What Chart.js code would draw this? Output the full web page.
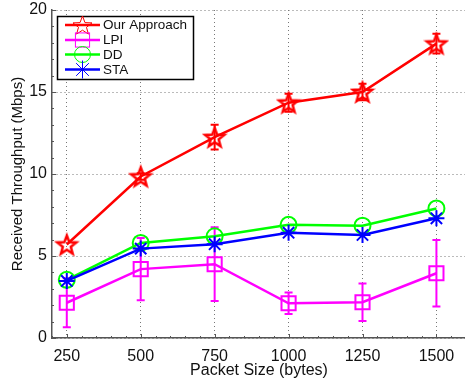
<!DOCTYPE html>
<html>
<head>
<meta charset="utf-8">
<script src="https://cdn.jsdelivr.net/npm/chart.js@4"></script>
<style>
  html, body { margin: 0; padding: 0; background: #fff; overflow: hidden; }
  #wrap { width: 467px; height: 387px; }
  canvas { display: block; }
</style>
</head>
<body>
<div id="wrap"><canvas id="throughputChart" width="467" height="387"></canvas></div>
<script>
// packet sizes (bytes) and received throughput (Mbps)
const packetSizes = [250, 500, 750, 1000, 1250, 1500];
const ourApproach = [5.7, 9.85, 12.25, 14.35, 15.0, 17.95];
const ourApproachErr = [0.0, 0.2, 0.75, 0.55, 0.5, 0.6];
const lpi = [2.15, 4.2, 4.5, 2.12, 2.18, 3.95];
const lpiErr = [1.5, 1.9, 2.25, 0.65, 1.14, 2.03];
const dd = [3.55, 5.8, 6.2, 6.9, 6.85, 7.9];
const sta = [3.48, 5.45, 5.72, 6.42, 6.28, 7.3];
const yTicks = [0, 5, 10, 15, 20];

const FONT = '"Liberation Sans", Arial, Helvetica, sans-serif';
Chart.defaults.font.family = FONT;
Chart.defaults.font.size = 16;
Chart.defaults.color = '#111';

function toPoints(values) {
    return packetSizes.map(function(x, i) { return { x: x, y: values[i] }; });
}

// five pointed star outline (pentagram marker)
function starPath(ctx, cx, cy, r) {
    const inner = r * 0.42;
    ctx.beginPath();
    for (let k = 0; k < 10; k++) {
        const rad = k % 2 === 0 ? r : inner;
        const a = -Math.PI / 2 + k * Math.PI / 5;
        const px = cx + rad * Math.cos(a), py = cy + rad * Math.sin(a);
        if (k === 0) ctx.moveTo(px, py); else ctx.lineTo(px, py);
    }
    ctx.closePath();
}

function makeStar(r, color, lw) {
    const c = document.createElement('canvas');
    const s = Math.ceil(2 * r + 6);
    c.width = s; c.height = s;
    const g = c.getContext('2d');
    g.strokeStyle = color;
    g.lineWidth = lw;
    g.lineJoin = 'miter';
    starPath(g, s / 2, s / 2 + 1, r);
    g.stroke();
    return c;
}

const starMarker = makeStar(10, '#ff0000', 2.5);

function drawMarker(ctx, style, x, y, r, color, lw) {
    ctx.save();
    ctx.strokeStyle = color;
    ctx.lineWidth = lw;
    if (style === 'pentagram') {
        starPath(ctx, x, y + 1, r);
        ctx.stroke();
    } else if (style === 'rect') {
        const h = r * Math.SQRT1_2;
        ctx.strokeRect(x - h, y - h, 2 * h, 2 * h);
    } else if (style === 'circle') {
        ctx.beginPath();
        ctx.arc(x, y, r, 0, Math.PI * 2);
        ctx.stroke();
    } else if (style === 'star') {
        ctx.beginPath();
        for (let k = 0; k < 4; k++) {
            const a = k * Math.PI / 4;
            ctx.moveTo(x - r * Math.cos(a), y - r * Math.sin(a));
            ctx.lineTo(x + r * Math.cos(a), y + r * Math.sin(a));
        }
        ctx.stroke();
    }
    ctx.restore();
}

// vertical error bars with caps, drawn right after each dataset
const errorBars = {
    id: 'errorBars',
    afterDatasetDraw(chart, args) {
        const ds = chart.data.datasets[args.index];
        if (!ds.errors) return;
        const ctx = chart.ctx;
        const xs = chart.scales.x, ys = chart.scales.y;
        ctx.save();
        ctx.strokeStyle = ds.borderColor;
        ctx.lineWidth = 2;
        ds.data.forEach(function(p, i) {
            const e = ds.errors[i];
            if (!e) return;
            const px = xs.getPixelForValue(p.x);
            const top = ys.getPixelForValue(p.y + e);
            const bot = ys.getPixelForValue(p.y - e);
            ctx.beginPath();
            ctx.moveTo(px, top); ctx.lineTo(px, bot);
            ctx.moveTo(px - 4, top); ctx.lineTo(px + 4, top);
            ctx.moveTo(px - 4, bot); ctx.lineTo(px + 4, bot);
            ctx.stroke();
        });
        ctx.restore();
    }
};

// small inward tick marks on both axes
const axisTicks = {
    id: 'axisTicks',
    afterDraw(chart) {
        const ctx = chart.ctx, a = chart.chartArea;
        const xs = chart.scales.x, ys = chart.scales.y;
        ctx.save();
        ctx.strokeStyle = '#555';
        ctx.lineWidth = 1;
        ctx.beginPath();
        for (let v = 200; v <= 1600; v += 50) {
            const px = Math.round(xs.getPixelForValue(v)) + 0.5;
            const len = packetSizes.indexOf(v) >= 0 ? 4 : 2;
            ctx.moveTo(px, a.bottom); ctx.lineTo(px, a.bottom - len);
        }
        for (let v = 0; v <= 20; v += 1) {
            const py = Math.round(ys.getPixelForValue(v)) + 0.5;
            const len = v % 5 === 0 ? 4 : 2;
            ctx.moveTo(a.left, py); ctx.lineTo(a.left + len, py);
        }
        ctx.stroke();
        ctx.restore();
    }
};

// boxed legend with line + marker samples
const boxLegend = {
    id: 'boxLegend',
    afterDraw(chart) {
        const ctx = chart.ctx;
        const bx = 57.5, by = 16.5, bw = 136, bh = 63;
        ctx.save();
        ctx.fillStyle = '#fff';
        ctx.fillRect(bx, by, bw, bh);
        ctx.strokeStyle = '#000';
        ctx.lineWidth = 1.5;
        ctx.strokeRect(bx, by, bw, bh);
        const rows = [25, 40, 54.5, 69.5];
        chart.data.datasets.forEach(function(ds, i) {
            const y = rows[i];
            ctx.strokeStyle = ds.borderColor;
            ctx.lineWidth = 2.5;
            ctx.beginPath();
            ctx.moveTo(65, y); ctx.lineTo(100, y);
            ctx.stroke();
            drawMarker(ctx, ds.legendMarker, 82.5, y, ds.legendRadius, ds.borderColor, 1);
            ctx.fillStyle = '#111';
            ctx.font = '13.5px ' + FONT;
            ctx.textBaseline = 'middle';
            ctx.textAlign = 'left';
            ctx.fillText(ds.label, 103, y + 0.5);
        });
        ctx.restore();
    }
};

new Chart(document.getElementById('throughputChart'), {
    type: 'line',
    data: {
        datasets: [{
            label: 'Our Approach',
            data: toPoints(ourApproach),
            errors: ourApproachErr,
            borderColor: '#ff0000',
            borderWidth: 2.5,
            pointStyle: starMarker,
            pointRadius: 10,
            legendMarker: 'pentagram',
            legendRadius: 10,
            order: 4
        }, {
            label: 'LPI',
            data: toPoints(lpi),
            errors: lpiErr,
            borderColor: '#ff00ff',
            borderWidth: 2.5,
            pointStyle: 'rect',
            pointRadius: 10,
            pointBorderWidth: 2,
            legendMarker: 'rect',
            legendRadius: 10,
            order: 3
        }, {
            label: 'DD',
            data: toPoints(dd),
            borderColor: '#00ff00',
            borderWidth: 2.5,
            pointStyle: 'circle',
            pointRadius: 8,
            pointBorderWidth: 2,
            legendMarker: 'circle',
            legendRadius: 8,
            order: 2
        }, {
            label: 'STA',
            data: toPoints(sta),
            borderColor: '#0000ff',
            borderWidth: 2.5,
            pointStyle: 'star',
            pointRadius: 8,
            pointBorderWidth: 2,
            legendMarker: 'star',
            legendRadius: 9,
            order: 1
        }]
    },
    options: {
        responsive: false,
        animation: false,
        devicePixelRatio: 1,
        layout: { autoPadding: false, padding: { top: 10, right: 1, bottom: 0, left: 0 } },
        elements: {
            line: { tension: 0 },
            point: { backgroundColor: 'rgba(0,0,0,0)', hoverRadius: 8 }
        },
        plugins: {
            legend: { display: false },
            tooltip: { enabled: false }
        },
        scales: {
            x: {
                type: 'linear',
                min: 200,
                max: 1600,
                afterBuildTicks: function(scale) {
                    scale.ticks = packetSizes.map(function(v) { return { value: v }; });
                },
                afterFit: function(scale) {
                    scale.height = 49;
                    scale.paddingLeft = 0;
                    scale.paddingRight = 0;
                },
                ticks: {
                    padding: 9, maxRotation: 0, autoSkip: false, color: '#111',
                    callback: function(v) { return String(v); }
                },
                grid: { color: '#777', lineWidth: 1, drawTicks: false },
                border: { display: true, color: '#555', width: 1.5, dash: [1, 3] },
                title: {
                    display: true,
                    text: 'Packet Size (bytes)',
                    font: { size: 16 },
                    padding: { top: 0, bottom: 7 },
                    color: '#111'
                }
            },
            y: {
                min: 0,
                max: 20,
                afterBuildTicks: function(scale) {
                    scale.ticks = yTicks.map(function(v) { return { value: v }; });
                },
                afterFit: function(scale) {
                    scale.width = 52;
                    scale.paddingTop = 0;
                    scale.paddingBottom = 0;
                },
                ticks: { padding: 5, color: '#111', callback: function(v) { return String(v); } },
                grid: { color: '#777', lineWidth: 1, drawTicks: false },
                border: { display: true, color: '#555', width: 1.5, dash: [1, 3] },
                title: {
                    display: true,
                    text: 'Received Throughput (Mbps)',
                    font: { size: 15 },
                    padding: { top: 9, bottom: 0 },
                    color: '#111'
                }
            }
        }
    },
    plugins: [errorBars, axisTicks, boxLegend]
});
</script>
</body>
</html>
